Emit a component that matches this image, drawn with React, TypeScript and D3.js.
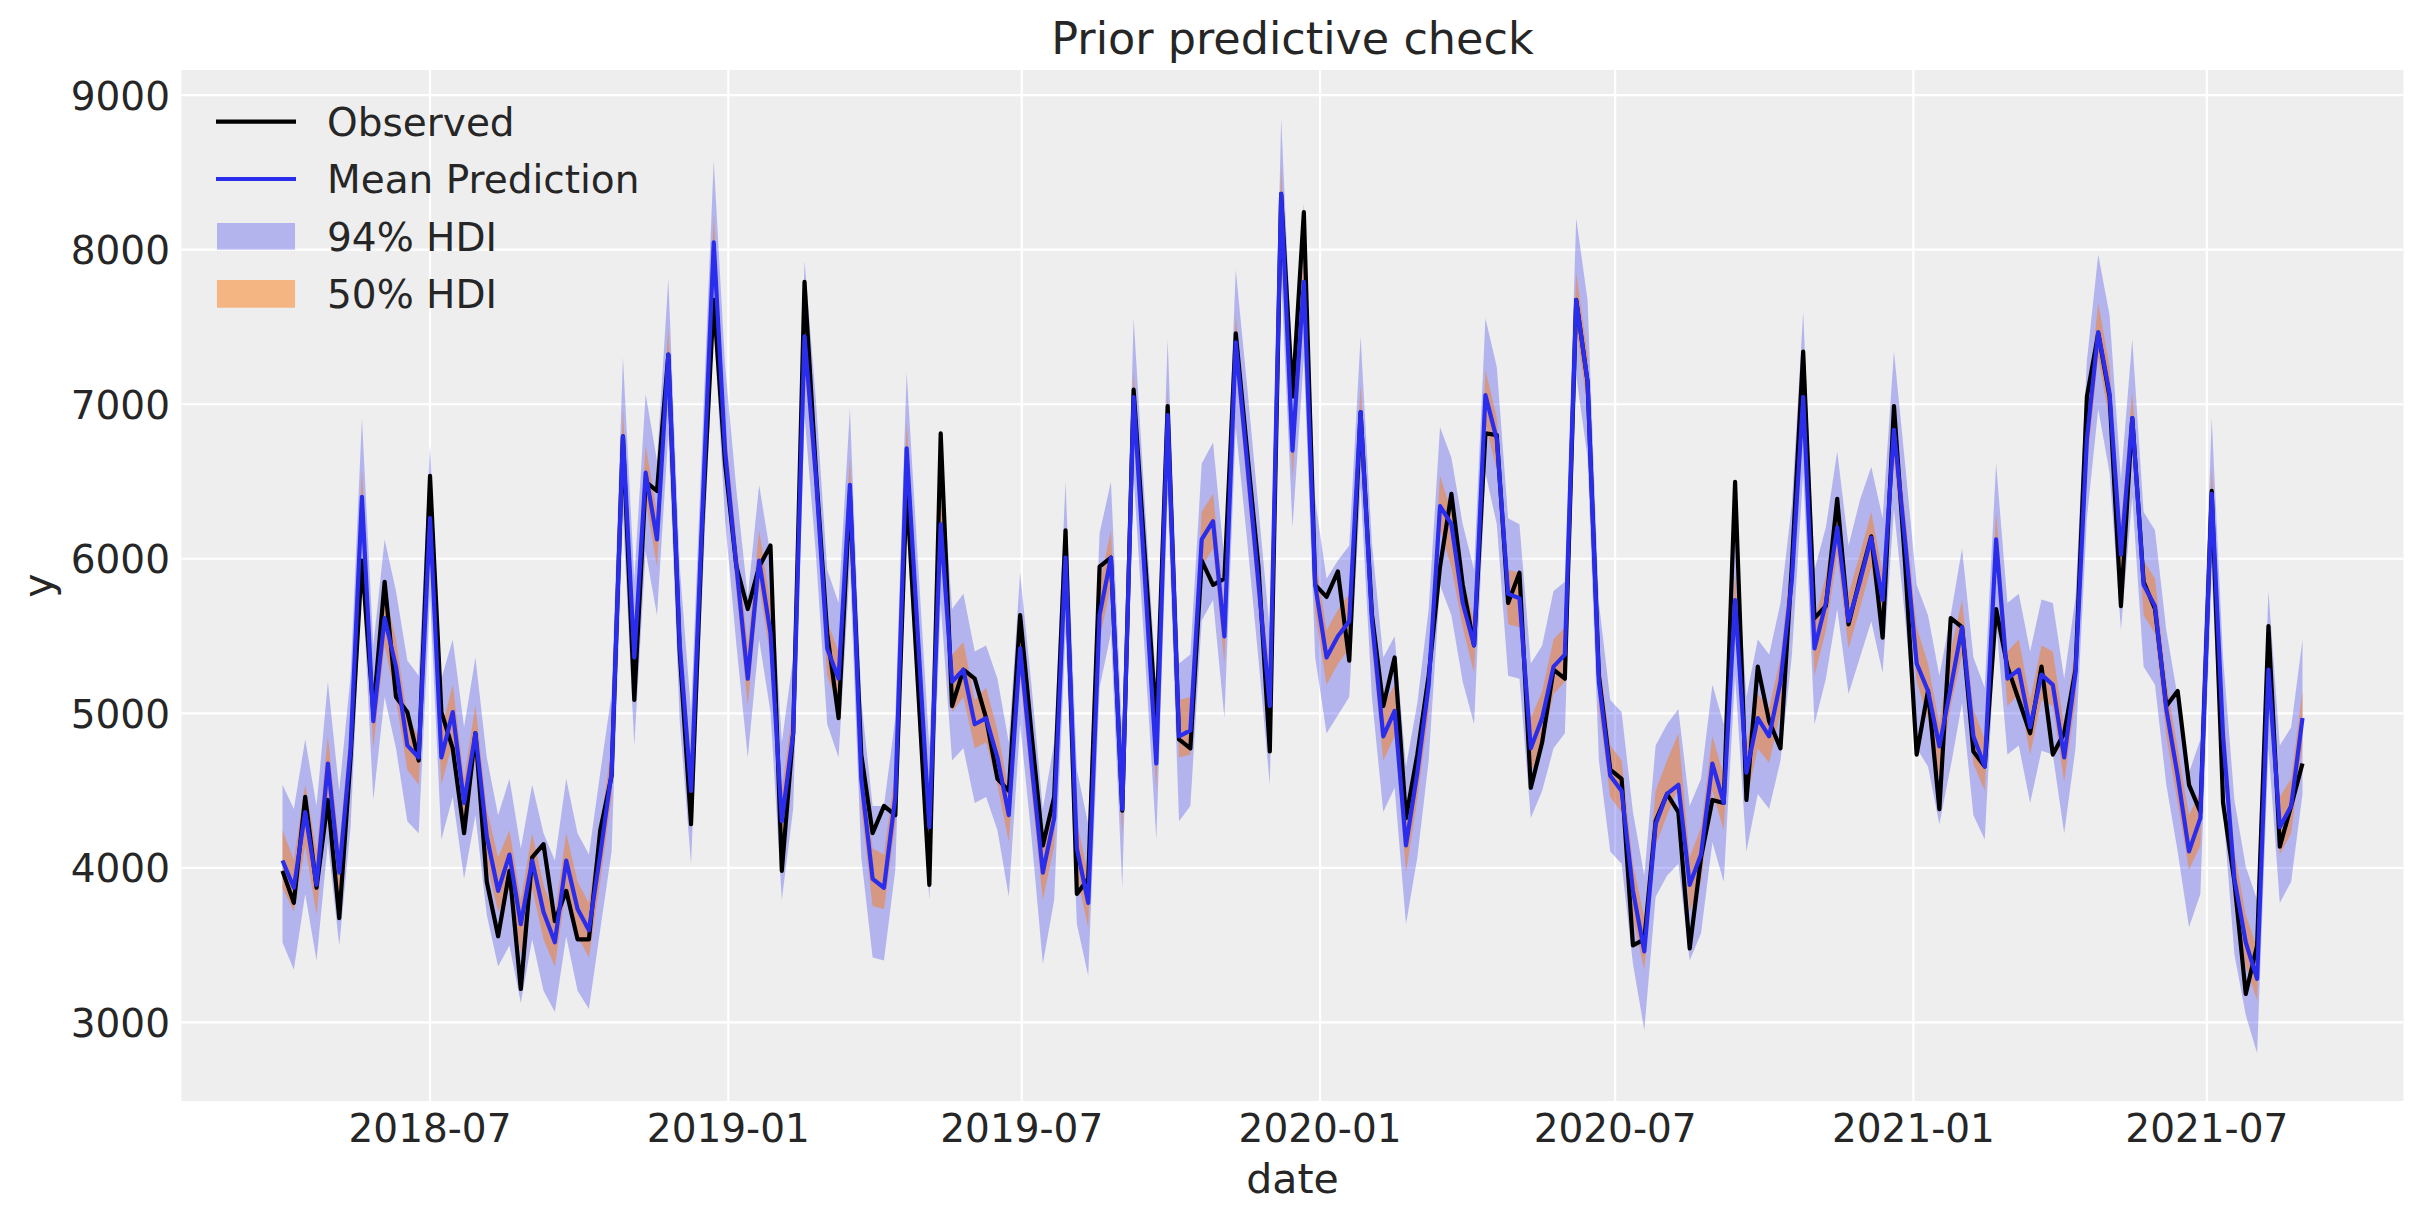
import * as d3 from "d3";

// weekly series, first week starting 2018-04-01
const startDate = new Date(2018, 3, 1);

const observed = [
  3980, 3773, 4459, 3871, 4439, 3675, 4714, 5988, 5008, 5851,
  5106, 5008, 4694, 6537, 5008, 4773, 4224, 4871, 3910, 3557,
  3980, 3216, 4067, 4153, 3655, 3851, 3537, 3537, 4243, 4596,
  6792, 5086, 6498, 6439, 7322, 5400, 4282, 6224, 7675, 6616,
  5949, 5675, 5949, 6086, 3980, 4871, 7792, 6576, 5518, 4969,
  6419, 4733, 4224, 4400, 4341, 6459, 5176, 3890, 6812, 5047,
  5282, 5224, 4969, 4576, 4498, 5635, 4871, 4145, 4459, 6184,
  3831, 3929, 5949, 6008, 4370, 7094, 6008, 4929, 6988, 4831,
  4773, 5988, 5831, 5871, 7459, 6700, 5950, 4753, 8361, 7050,
  8243, 5831, 5753, 5918, 5341, 6949, 5640, 5047, 5361, 4322,
  4733, 5243, 5949, 6420, 5831, 5439, 6812, 6800, 5714, 5910,
  4518, 4812, 5282, 5224, 7675, 7145, 5243, 4635, 4576, 3498,
  3537, 4302, 4478, 4361, 3478, 4067, 4439, 4420, 6498, 4439,
  5302, 4949, 4773, 5950, 7341, 5616, 5694, 6388, 5576, 5871,
  6145, 5490, 6988, 5950, 4733, 5145, 4380, 5616, 5557, 4753,
  4655, 5675, 5302, 5086, 4871, 5302, 4733, 4871, 5282, 7047,
  7459, 7047, 5694, 6910, 5851, 5675, 5047, 5145, 4537, 4361,
  6439, 4420, 3910, 3184, 3498, 5565, 4137, 4400, 4675,
];

const meanPrediction = [
  4047, 3871, 4361, 3890, 4675, 3969, 4773, 6400, 4949, 5616,
  5302, 4792, 4714, 6263, 4714, 5008, 4420, 4871, 4204, 3851,
  4086, 3635, 4047, 3714, 3518, 4047, 3733, 3596, 4086, 4616,
  6792, 5361, 6557, 6125, 7322, 5450, 4498, 6300, 8047, 6700,
  5949, 5224, 5988, 5518, 4302, 4871, 7439, 6537, 5420, 5224,
  6478, 4576, 3929, 3871, 4459, 6714, 5486, 4263, 6224, 5204,
  5282, 4929, 4969, 4714, 4341, 5420, 4675, 3969, 4322, 6008,
  4125, 3773, 5635, 6008, 4380, 7047, 5863, 4675, 6929, 4851,
  4890, 6125, 6243, 5498, 7400, 6624, 5843, 5047, 8361, 6700,
  7792, 5831, 5361, 5498, 5596, 6949, 5600, 4851, 5016, 4145,
  4616, 5184, 6341, 6224, 5714, 5439, 7059, 6773, 5773, 5745,
  4773, 4969, 5302, 5380, 7675, 7145, 5204, 4596, 4498, 3851,
  3459, 4282, 4478, 4537, 3890, 4086, 4675, 4420, 5733, 4616,
  4969, 4851, 5204, 5860, 7047, 5420, 5714, 6204, 5596, 5851,
  6137, 5733, 6835, 6100, 5322, 5145, 4786, 5165, 5557, 4851,
  4655, 6125, 5224, 5282, 4910, 5251, 5184, 4714, 5263, 6773,
  7467, 7067, 6027, 6910, 5831, 5694, 5027, 4596, 4106, 4322,
  6420, 4851, 3929, 3518, 3282, 5282, 4263, 4400, 4969,
];

const hdi94High = [
  4537, 4380, 4831, 4400, 5204, 4498, 5243, 6910, 5439, 6125,
  5792, 5341, 5243, 6733, 5224, 5478, 4910, 5361, 4714, 4341,
  4576, 4125, 4537, 4224, 4047, 4576, 4224, 4086, 4616, 5125,
  7302, 5871, 7067, 6635, 7812, 5950, 5008, 6800, 8576, 7250,
  6443, 5753, 6478, 6027, 4812, 5361, 7929, 7030, 5929, 5714,
  6969, 5086, 4400, 4400, 4969, 7204, 5980, 4773, 6710, 5675,
  5773, 5400, 5439, 5224, 4812, 5910, 5180, 4380, 4812, 6498,
  4635, 4282, 6165, 6498, 4851, 7557, 6350, 5165, 7420, 5322,
  5380, 6616, 6753, 5988, 7870, 7120, 6330, 5537, 8851, 7200,
  8300, 6380, 5871, 5988, 6086, 7439, 6100, 5361, 5498, 4655,
  5067, 5675, 6851, 6655, 6224, 5929, 7557, 7243, 6263, 6224,
  5322, 5439, 5792, 5851, 8204, 7674, 5714, 5086, 5008, 4361,
  3949, 4792, 4929, 5027, 4400, 4576, 5184, 4929, 6224, 5106,
  5478, 5380, 5714, 6350, 7596, 5929, 6204, 6694, 6086, 6380,
  6596, 6263, 7343, 6600, 5831, 5635, 5243, 5635, 6067, 5361,
  5165, 6616, 5714, 5773, 5400, 5737, 5714, 5224, 5753, 7282,
  7969, 7576, 6520, 7420, 6302, 6184, 5537, 5106, 4616, 4831,
  6910, 5361, 4439, 4008, 3792, 5792, 4792, 4910, 5478,
];

const hdi94Low = [
  3517, 3341, 3831, 3400, 4165, 3498, 4263, 5890, 4439, 5106,
  4773, 4302, 4224, 5753, 4184, 4459, 3929, 4341, 3694, 3361,
  3498, 3125, 3537, 3204, 3067, 3557, 3204, 3086, 3600, 4106,
  6282, 4792, 6047, 5635, 6812, 4950, 4027, 5800, 7518, 6250,
  5440, 4714, 5478, 5008, 3792, 4380, 6929, 6030, 4929, 4714,
  5949, 4067, 3420, 3400, 3988, 6200, 4980, 3792, 5710, 4694,
  4773, 4420, 4459, 4243, 3812, 4929, 4200, 3380, 3792, 5518,
  3635, 3302, 5165, 5518, 3871, 6537, 5370, 4184, 6420, 4302,
  4400, 5600, 5733, 4969, 6851, 6120, 5350, 4537, 7831, 6200,
  7300, 5361, 4871, 4988, 5106, 6459, 5100, 4361, 4518, 3635,
  4067, 4694, 5831, 5635, 5204, 4929, 6557, 6224, 5243, 5224,
  4322, 4498, 4773, 4871, 7184, 6655, 4694, 4106, 4027, 3380,
  2949, 3812, 3949, 4027, 3400, 3576, 4165, 3910, 5243, 4106,
  4478, 4380, 4694, 5370, 6557, 4929, 5224, 5675, 5125, 5361,
  5596, 5263, 6322, 5600, 4773, 4655, 4282, 4655, 5067, 4341,
  4184, 5596, 4733, 4792, 4420, 4757, 4733, 4224, 4773, 6263,
  6969, 6557, 5540, 6400, 5302, 5184, 4537, 4106, 3616, 3831,
  5910, 4380, 3439, 3047, 2800, 4773, 3773, 3910, 4478,
];

const hdi50High = [
  4243, 4051, 4537, 4106, 4851, 4145, 4950, 6576, 5125, 5792,
  5478, 4969, 4851, 6420, 4890, 5184, 4577, 5050, 4380, 4067,
  4243, 3792, 4224, 3890, 3694, 4224, 3910, 3772, 4263, 4792,
  6969, 5537, 6733, 6302, 7498, 5620, 4670, 6480, 8224, 6880,
  6120, 5439, 6184, 5714, 4498, 5050, 7616, 6710, 5596, 5400,
  6655, 4733, 4125, 4086, 4640, 6890, 5660, 4459, 6420, 5380,
  5459, 5086, 5165, 4890, 4498, 5596, 4850, 4125, 4498, 6184,
  4302, 3949, 5831, 6184, 4560, 7224, 6040, 4831, 7086, 5086,
  5106, 6302, 6420, 5675, 7576, 6800, 6020, 5243, 8537, 6880,
  7970, 6010, 5537, 5670, 5772, 7125, 5780, 5047, 5184, 4322,
  4790, 5360, 6537, 6302, 5870, 5596, 7224, 6910, 5929, 5910,
  4969, 5140, 5478, 5557, 7851, 7322, 5380, 4792, 4694, 4027,
  3674, 4498, 4694, 4870, 4067, 4263, 4851, 4596, 5910, 4792,
  5125, 5030, 5361, 6040, 7224, 5596, 5890, 6380, 5772, 6030,
  6302, 5910, 6988, 6280, 5557, 5321, 4929, 5400, 5733, 5027,
  4831, 6302, 5400, 5478, 5086, 5439, 5400, 4909, 5439, 6949,
  7655, 7243, 6223, 7086, 5988, 5870, 5204, 4772, 4341, 4498,
  6596, 5047, 4106, 3694, 3478, 5459, 4459, 4577, 5145,
];

const hdi50Low = [
  3870, 3718, 4145, 3694, 4459, 3792, 4600, 6184, 4773, 5439,
  5086, 4635, 4537, 6067, 4537, 4812, 4263, 4700, 4027, 3714,
  3870, 3439, 3870, 3537, 3361, 3870, 3557, 3419, 3910, 4459,
  6616, 5184, 6380, 5949, 7145, 5270, 4320, 6120, 7871, 6530,
  5780, 5047, 5831, 5361, 4145, 4700, 7243, 6360, 5243, 5047,
  6302, 4380, 3753, 3733, 4280, 6537, 5310, 4106, 6067, 5008,
  5106, 4773, 4812, 4537, 4165, 5243, 4500, 3792, 4145, 5831,
  3949, 3615, 5478, 5831, 4200, 6890, 5690, 4498, 6753, 4714,
  4733, 5949, 6067, 5322, 7243, 6450, 5670, 4890, 8184, 6520,
  7620, 5650, 5184, 5320, 5419, 6772, 5420, 4694, 4851, 3968,
  4440, 5010, 6184, 5949, 5557, 5263, 6870, 6576, 5576, 5557,
  4616, 4790, 5125, 5204, 7498, 6969, 5030, 4459, 4360, 3674,
  3341, 4145, 4341, 4517, 3714, 3910, 4498, 4243, 5560, 4439,
  4772, 4680, 5008, 5690, 6870, 5243, 5537, 6027, 5419, 5680,
  5949, 5557, 6635, 5920, 5204, 4968, 4576, 5047, 5380, 4674,
  4498, 5949, 5047, 5125, 4733, 5086, 5047, 4556, 5086, 6596,
  7302, 6890, 5831, 6733, 5635, 5517, 4851, 4419, 3988, 4145,
  6243, 4694, 3753, 3361, 3145, 5106, 4086, 4223, 4792,
];

const yTicks = [3000, 4000, 5000, 6000, 7000, 8000, 9000];
const legendItems = ["Observed", "Mean Prediction", "94% HDI", "50% HDI"];

const W = 2423;
const H = 1223;
const plot = { left: 181.5, right: 2403.5, top: 70, bottom: 1101 };
const font = "'DejaVu Sans', sans-serif";
const textColor = "#262626";
const lineWidth = 4.2;

export default function App() {
  const dates = observed.map((_, i) => d3.timeDay.offset(startDate, 7 * i));
  const d0 = +dates[0];
  const d1 = +dates[dates.length - 1];
  const pad = (d1 - d0) * 0.05;

  const x = d3.scaleTime()
    .domain([new Date(d0 - pad), new Date(d1 + pad)])
    .range([plot.left, plot.right]);
  const y = d3.scaleLinear().domain([2491, 9163]).range([plot.bottom, plot.top]);

  const xTicks = x.ticks(d3.timeMonth.every(6)!);
  const fmt = d3.timeFormat("%Y-%m");

  const band = (lo: number[], hi: number[]) =>
    d3.area<number>()
      .x((i) => x(dates[i]))
      .y0((i) => y(lo[i]))
      .y1((i) => y(hi[i]))(d3.range(dates.length))!;

  const line = (vals: number[]) =>
    d3.line<number>()
      .x((i) => x(dates[i]))
      .y((i) => y(vals[i]))(d3.range(dates.length))!;

  const legendY = [121.7, 179, 236.3, 293.8];

  return (
    <svg width={W} height={H} style={{ position: "absolute", left: 0, top: 0, background: "#fff" }}>
      <rect x={plot.left} y={plot.top} width={plot.right - plot.left} height={plot.bottom - plot.top} fill="#eeeeee" />

      {yTicks.map((t) => (
        <line key={"gy" + t} x1={plot.left} x2={plot.right} y1={y(t)} y2={y(t)} stroke="#fff" strokeWidth={2.2} />
      ))}
      {xTicks.map((t) => (
        <line key={"gx" + +t} x1={x(t)} x2={x(t)} y1={plot.top} y2={plot.bottom} stroke="#fff" strokeWidth={2.2} />
      ))}

      <path d={band(hdi94Low, hdi94High)} fill="#2a2eec" fillOpacity={0.3} />
      <path d={band(hdi50Low, hdi50High)} fill="#fa7c17" fillOpacity={0.5} />
      <path d={line(observed)} fill="none" stroke="#000" strokeWidth={lineWidth} strokeLinejoin="round" />
      <path d={line(meanPrediction)} fill="none" stroke="#2a2eec" strokeWidth={lineWidth} strokeLinejoin="round" />

      {yTicks.map((t) => (
        <text key={"ty" + t} x={170} y={y(t) + 14.5} textAnchor="end" fontFamily={font} fontSize={39} fill={textColor}>
          {t}
        </text>
      ))}
      {xTicks.map((t) => (
        <text key={"tx" + +t} x={x(t)} y={1142} textAnchor="middle" fontFamily={font} fontSize={39} fill={textColor}>
          {fmt(t)}
        </text>
      ))}

      <text x={(plot.left + plot.right) / 2} y={1193} textAnchor="middle" fontFamily={font} fontSize={41} fill={textColor}>
        date
      </text>
      <text transform={`translate(52,${(plot.top + plot.bottom) / 2}) rotate(-90)`} textAnchor="middle" fontFamily={font} fontSize={41} fill={textColor}>
        y
      </text>
      <text x={(plot.left + plot.right) / 2} y={54} textAnchor="middle" fontFamily={font} fontSize={44.5} fill={textColor}>
        Prior predictive check
      </text>

      <g>
        <line x1={216} x2={296} y1={legendY[0]} y2={legendY[0]} stroke="#000" strokeWidth={lineWidth} />
        <line x1={216} x2={296} y1={legendY[1]} y2={legendY[1]} stroke="#2a2eec" strokeWidth={lineWidth} />
        <rect x={217} y={legendY[2] - 13.3} width={78} height={26.7} fill="#2a2eec" fillOpacity={0.3} />
        <rect x={217} y={legendY[3] - 13.8} width={78} height={27.7} fill="#fa7c17" fillOpacity={0.5} />
        {legendItems.map((name, i) => (
          <text key={name} x={327} y={legendY[i] + 14.3} fontFamily={font} fontSize={39} fill={textColor}>
            {name}
          </text>
        ))}
      </g>
    </svg>
  );
}
